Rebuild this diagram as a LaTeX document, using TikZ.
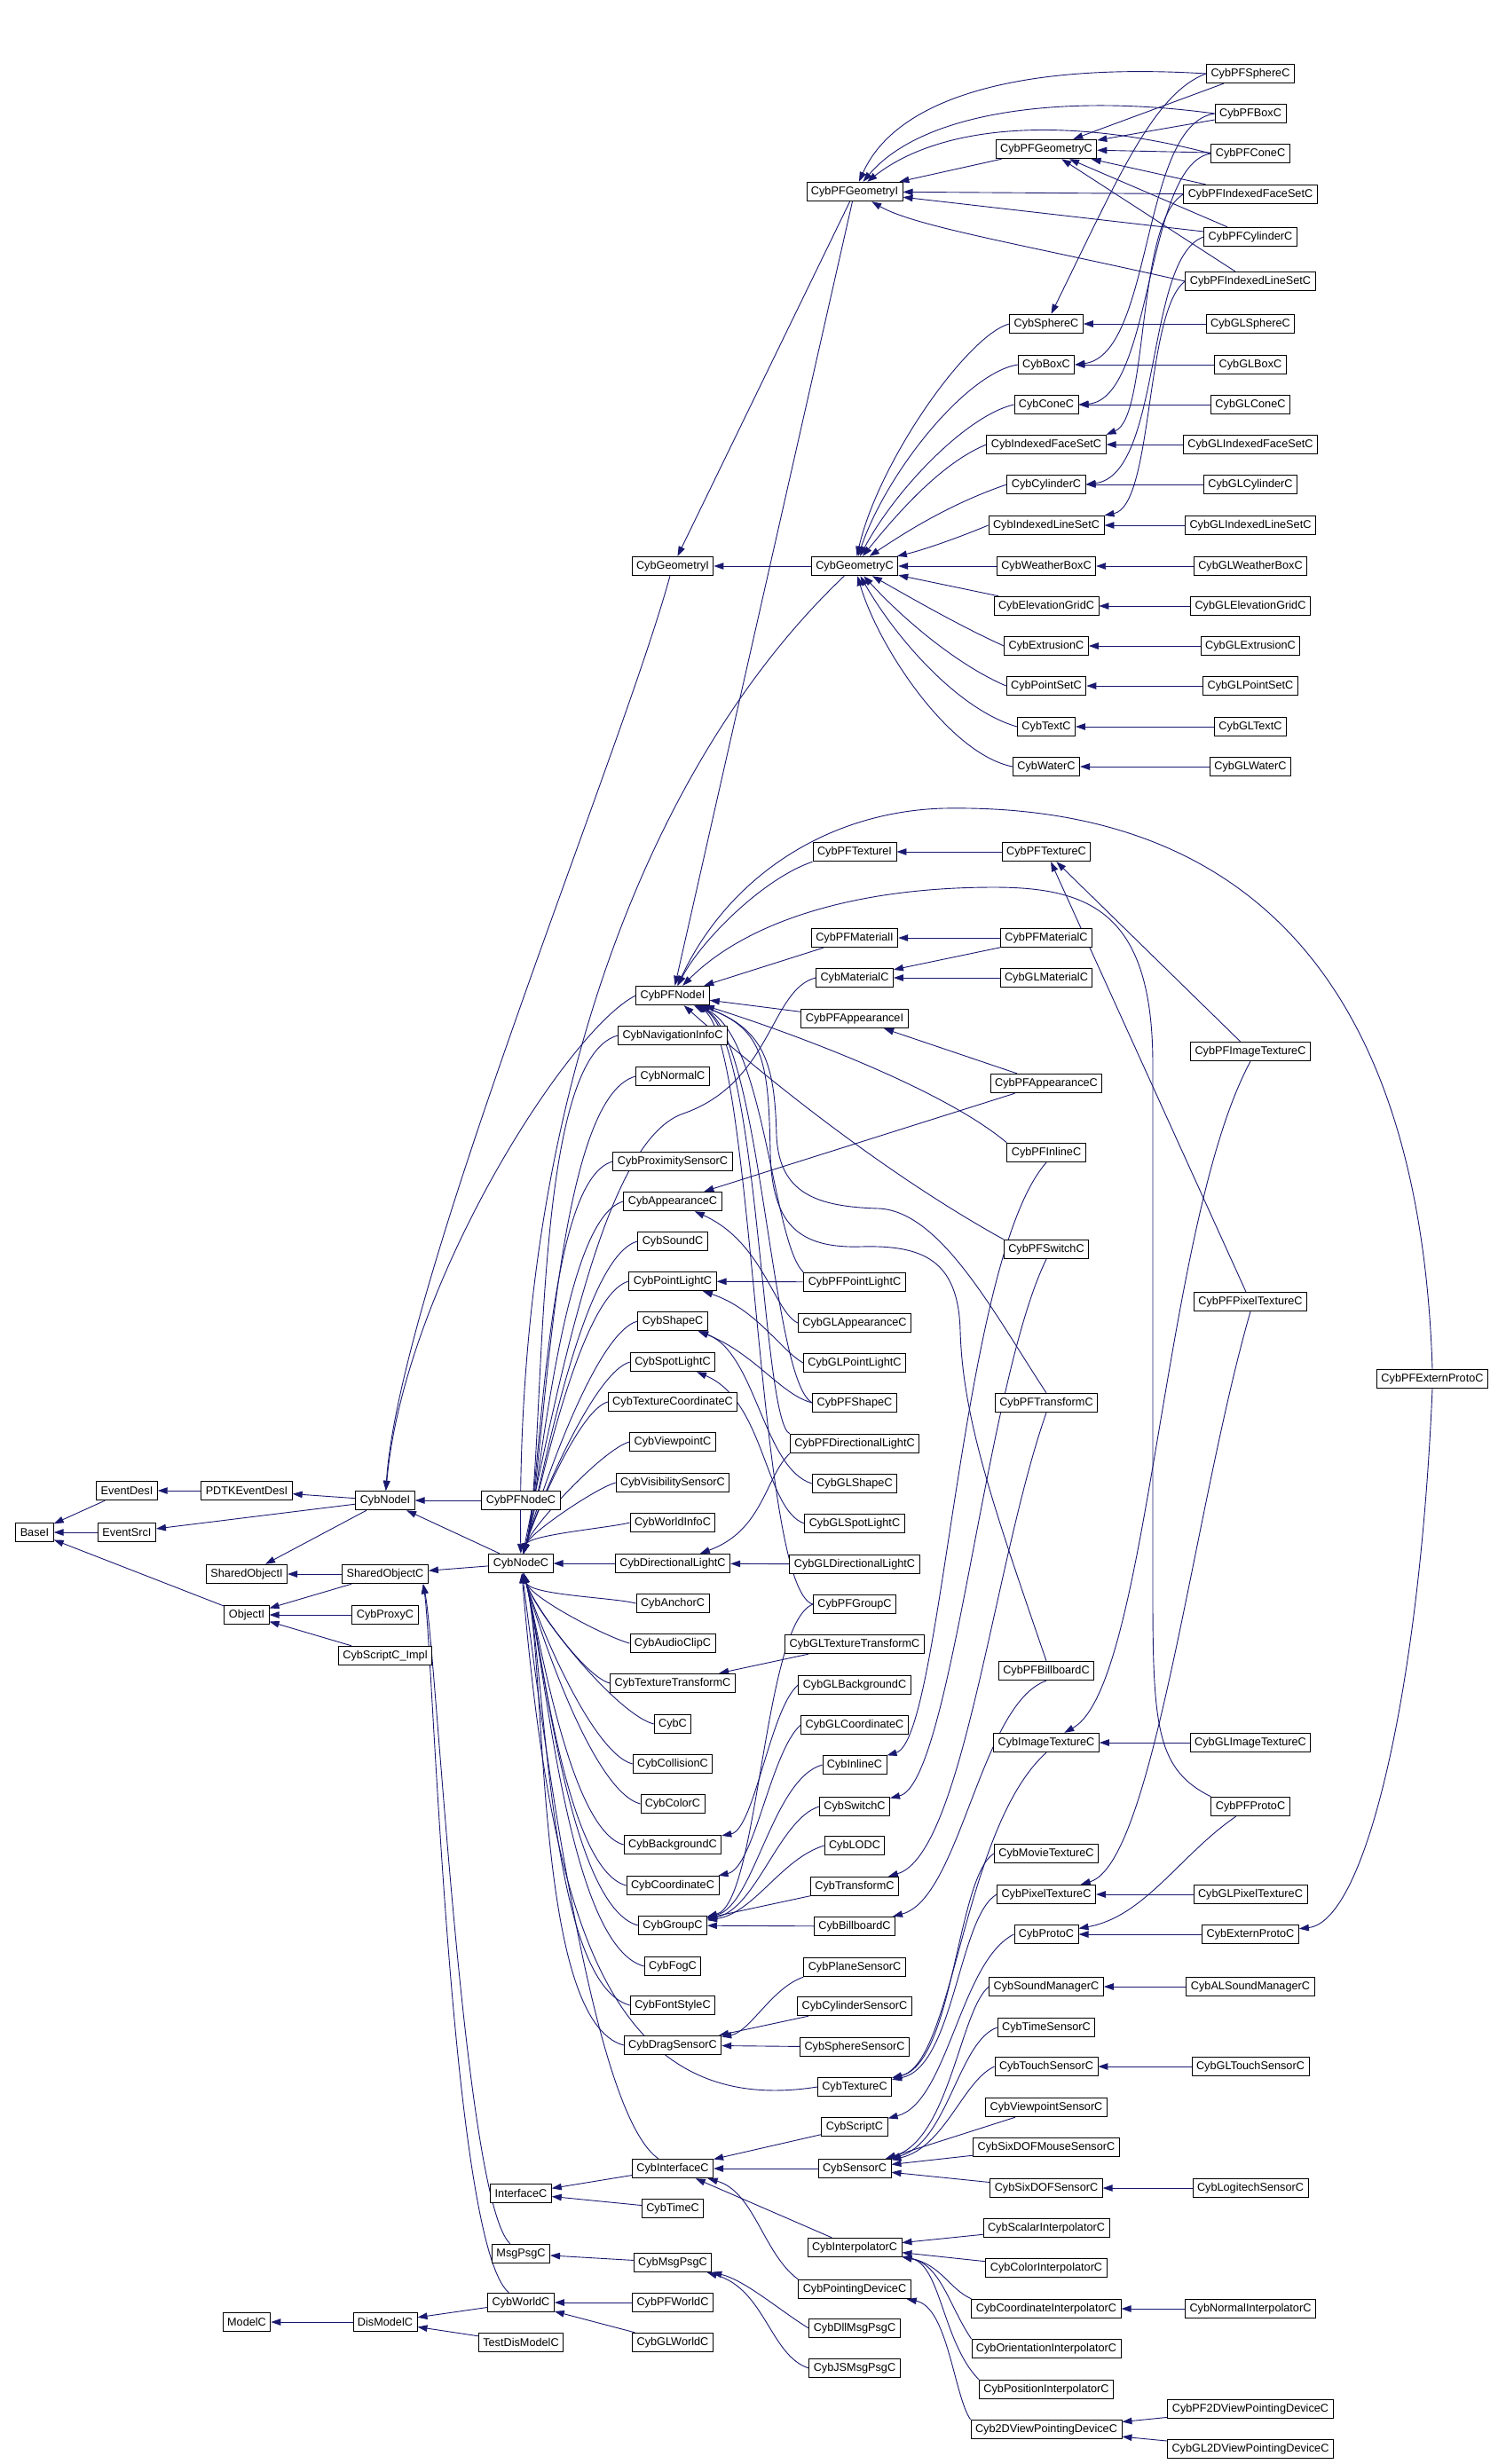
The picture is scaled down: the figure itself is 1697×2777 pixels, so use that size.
\documentclass[tikz,border=0pt]{standalone}
\usepackage{fontspec}
\setmainfont{Liberation Sans}
\usetikzlibrary{arrows.meta}
\definecolor{edgeblue}{RGB}{25,25,112}
\pgfdeclarelayer{edges}
\pgfsetlayers{edges,main}

\begin{document}
\begin{tikzpicture}[x=1pt,y=1pt,
  cls/.style={draw=black,line width=0.9pt,fill=white,minimum height=21.5pt,inner xsep=5pt,inner ysep=0pt,font=\fontsize{12.7}{15}\selectfont},
  inh/.style={draw=edgeblue,line width=0.9pt,-{Triangle[length=11pt,width=7.5pt]}}]
\useasboundingbox (0,0) rectangle (1697,-2777);

\node[cls] (basei) at (39,-1727) {BaseI};
\node[cls] (evdesi) at (143,-1680) {EventDesI};
\node[cls] (evsrci) at (143,-1727) {EventSrcI};
\node[cls] (pdtk) at (278,-1680) {PDTKEventDesI};
\node[cls] (shobji) at (278,-1774) {SharedObjectI};
\node[cls] (obji) at (278,-1820) {ObjectI};
\node[cls] (modelc) at (278,-2617) {ModelC};
\node[cls] (nodei) at (434,-1691) {CybNodeI};
\node[cls] (shobjc) at (434,-1774) {SharedObjectC};
\node[cls] (proxy) at (434,-1820) {CybProxyC};
\node[cls] (scrimpl) at (434,-1866) {CybScriptC\_Impl};
\node[cls] (dismodel) at (434,-2617) {DisModelC};
\node[cls] (pfnodec) at (587,-1691) {CybPFNodeC};
\node[cls] (nodec) at (587,-1762) {CybNodeC};
\node[cls] (ifacec) at (587,-2472) {InterfaceC};
\node[cls] (msgpsg) at (587,-2540) {MsgPsgC};
\node[cls] (world) at (587,-2595) {CybWorldC};
\node[cls] (testdis) at (587,-2640) {TestDisModelC};

\node[cls] (geomi) at (758,-638) {CybGeometryI};
\node[cls] (pfnodei) at (758,-1122) {CybPFNodeI};
\node[cls] (navinfo) at (758,-1167) {CybNavigationInfoC};
\node[cls] (normal) at (758,-1213) {CybNormalC};
\node[cls] (proxsens) at (758,-1309) {CybProximitySensorC};
\node[cls] (appc) at (758,-1354) {CybAppearanceC};
\node[cls] (sound) at (758,-1399) {CybSoundC};
\node[cls] (ptlight) at (758,-1444) {CybPointLightC};
\node[cls] (shape) at (758,-1489) {CybShapeC};
\node[cls] (spot) at (758,-1535) {CybSpotLightC};
\node[cls] (texcoord) at (758,-1580) {CybTextureCoordinateC};
\node[cls] (vpoint) at (758,-1625) {CybViewpointC};
\node[cls] (visib) at (758,-1671) {CybVisibilitySensorC};
\node[cls] (winfo) at (758,-1716) {CybWorldInfoC};
\node[cls] (dirlight) at (758,-1762) {CybDirectionalLightC};
\node[cls] (anchor) at (758,-1807) {CybAnchorC};
\node[cls] (audio) at (758,-1852) {CybAudioClipC};
\node[cls] (textrans) at (758,-1897) {CybTextureTransformC};
\node[cls] (cybc) at (758,-1943) {CybC};
\node[cls] (collis) at (758,-1988) {CybCollisionC};
\node[cls] (color) at (758,-2033) {CybColorC};
\node[cls] (backgr) at (758,-2079) {CybBackgroundC};
\node[cls] (coord) at (758,-2125) {CybCoordinateC};
\node[cls] (group) at (758,-2170) {CybGroupC};
\node[cls] (fog) at (758,-2216) {CybFogC};
\node[cls] (font) at (758,-2260) {CybFontStyleC};
\node[cls] (drag) at (758,-2305) {CybDragSensorC};
\node[cls] (iface) at (758,-2444) {CybInterfaceC};
\node[cls] (time) at (758,-2489) {CybTimeC};
\node[cls] (msgpsgc) at (758,-2550) {CybMsgPsgC};
\node[cls] (pfworld) at (758,-2595) {CybPFWorldC};
\node[cls] (glworld) at (758,-2640) {CybGLWorldC};

\node[cls] (pfgeomi) at (963,-216) {CybPFGeometryI};
\node[cls] (geomc) at (963,-638) {CybGeometryC};
\node[cls] (pftexi) at (963,-960) {CybPFTextureI};
\node[cls] (pfmati) at (963,-1057) {CybPFMaterialI};
\node[cls] (matc) at (963,-1102) {CybMaterialC};
\node[cls] (pfappi) at (963,-1148) {CybPFAppearanceI};
\node[cls] (pfptlight) at (963,-1445) {CybPFPointLightC};
\node[cls] (glapp) at (963,-1491) {CybGLAppearanceC};
\node[cls] (glptlight) at (963,-1536) {CybGLPointLightC};
\node[cls] (pfshape) at (963,-1581) {CybPFShapeC};
\node[cls] (pfdir) at (963,-1627) {CybPFDirectionalLightC};
\node[cls] (glshape) at (963,-1672) {CybGLShapeC};
\node[cls] (glspot) at (963,-1717) {CybGLSpotLightC};
\node[cls] (gldir) at (963,-1763) {CybGLDirectionalLightC};
\node[cls] (pfgroup) at (963,-1808) {CybPFGroupC};
\node[cls] (gltextr) at (963,-1853) {CybGLTextureTransformC};
\node[cls] (glbackgr) at (963,-1899) {CybGLBackgroundC};
\node[cls] (glcoord) at (963,-1944) {CybGLCoordinateC};
\node[cls] (inline) at (963,-1989) {CybInlineC};
\node[cls] (switch) at (963,-2036) {CybSwitchC};
\node[cls] (lod) at (963,-2080) {CybLODC};
\node[cls] (transf) at (963,-2126) {CybTransformC};
\node[cls] (billb) at (963,-2171) {CybBillboardC};
\node[cls] (plane) at (963,-2217) {CybPlaneSensorC};
\node[cls] (cylsens) at (963,-2261) {CybCylinderSensorC};
\node[cls] (sphsens) at (963,-2307) {CybSphereSensorC};
\node[cls] (texture) at (963,-2352) {CybTextureC};
\node[cls] (script) at (963,-2397) {CybScriptC};
\node[cls] (sensor) at (963,-2444) {CybSensorC};
\node[cls] (interp) at (963,-2533) {CybInterpolatorC};
\node[cls] (pointdev) at (963,-2580) {CybPointingDeviceC};
\node[cls] (dllmsg) at (963,-2624) {CybDllMsgPsgC};
\node[cls] (jsmsg) at (963,-2669) {CybJSMsgPsgC};

\node[cls] (pfgeomc) at (1179,-168) {CybPFGeometryC};
\node[cls] (sphere) at (1179,-365) {CybSphereC};
\node[cls] (box) at (1179,-411) {CybBoxC};
\node[cls] (cone) at (1179,-456) {CybConeC};
\node[cls] (ifs) at (1179,-501) {CybIndexedFaceSetC};
\node[cls] (cyl) at (1179,-546) {CybCylinderC};
\node[cls] (ils) at (1179,-592) {CybIndexedLineSetC};
\node[cls] (wbox) at (1179,-638) {CybWeatherBoxC};
\node[cls] (elev) at (1179,-683) {CybElevationGridC};
\node[cls] (extr) at (1179,-728) {CybExtrusionC};
\node[cls] (pset) at (1179,-773) {CybPointSetC};
\node[cls] (txt) at (1179,-819) {CybTextC};
\node[cls] (water) at (1179,-864) {CybWaterC};
\node[cls] (pftexc) at (1179,-960) {CybPFTextureC};
\node[cls] (pfmatc) at (1179,-1057) {CybPFMaterialC};
\node[cls] (glmatc) at (1179,-1102) {CybGLMaterialC};
\node[cls] (pfappc) at (1179,-1221) {CybPFAppearanceC};
\node[cls] (pfinline) at (1179,-1299) {CybPFInlineC};
\node[cls] (pfswitch) at (1179,-1408) {CybPFSwitchC};
\node[cls] (pftransf) at (1179,-1581) {CybPFTransformC};
\node[cls] (pfbillb) at (1179,-1883) {CybPFBillboardC};
\node[cls] (imgtex) at (1179,-1964) {CybImageTextureC};
\node[cls] (movtex) at (1179,-2089) {CybMovieTextureC};
\node[cls] (pixtex) at (1179,-2135) {CybPixelTextureC};
\node[cls] (proto) at (1179,-2180) {CybProtoC};
\node[cls] (sndmgr) at (1179,-2239) {CybSoundManagerC};
\node[cls] (timesens) at (1179,-2285) {CybTimeSensorC};
\node[cls] (touch) at (1179,-2329) {CybTouchSensorC};
\node[cls] (vpsens) at (1179,-2375) {CybViewpointSensorC};
\node[cls] (sixmouse) at (1179,-2420) {CybSixDOFMouseSensorC};
\node[cls] (sixdof) at (1179,-2466) {CybSixDOFSensorC};
\node[cls] (scalar) at (1179,-2511) {CybScalarInterpolatorC};
\node[cls] (colint) at (1179,-2556) {CybColorInterpolatorC};
\node[cls] (coordint) at (1179,-2602) {CybCoordinateInterpolatorC};
\node[cls] (orient) at (1179,-2647) {CybOrientationInterpolatorC};
\node[cls] (posint) at (1179,-2693) {CybPositionInterpolatorC};
\node[cls] (view2d) at (1179,-2738) {Cyb2DViewPointingDeviceC};

\node[cls] (pfsph) at (1409,-83) {CybPFSphereC};
\node[cls] (pfbox) at (1409,-128) {CybPFBoxC};
\node[cls] (pfcone) at (1409,-173) {CybPFConeC};
\node[cls] (pfifs) at (1409,-219) {CybPFIndexedFaceSetC};
\node[cls] (pfcyl) at (1409,-267) {CybPFCylinderC};
\node[cls] (pfils) at (1409,-317) {CybPFIndexedLineSetC};
\node[cls] (glsph) at (1409,-365) {CybGLSphereC};
\node[cls] (glbox) at (1409,-411) {CybGLBoxC};
\node[cls] (glcone) at (1409,-456) {CybGLConeC};
\node[cls] (glifs) at (1409,-501) {CybGLIndexedFaceSetC};
\node[cls] (glcyl) at (1409,-546) {CybGLCylinderC};
\node[cls] (glils) at (1409,-592) {CybGLIndexedLineSetC};
\node[cls] (glwbox) at (1409,-638) {CybGLWeatherBoxC};
\node[cls] (glelev) at (1409,-683) {CybGLElevationGridC};
\node[cls] (glextr) at (1409,-728) {CybGLExtrusionC};
\node[cls] (glpset) at (1409,-773) {CybGLPointSetC};
\node[cls] (gltxt) at (1409,-819) {CybGLTextC};
\node[cls] (glwater) at (1409,-864) {CybGLWaterC};
\node[cls] (pfimgtex) at (1409,-1185) {CybPFImageTextureC};
\node[cls] (pfpixtex) at (1409,-1467) {CybPFPixelTextureC};
\node[cls] (glimgtex) at (1409,-1964) {CybGLImageTextureC};
\node[cls] (pfproto) at (1409,-2036) {CybPFProtoC};
\node[cls] (glpixtex) at (1409,-2135) {CybGLPixelTextureC};
\node[cls] (extproto) at (1409,-2180) {CybExternProtoC};
\node[cls] (alsnd) at (1409,-2239) {CybALSoundManagerC};
\node[cls] (gltouch) at (1409,-2329) {CybGLTouchSensorC};
\node[cls] (logi) at (1409,-2466) {CybLogitechSensorC};
\node[cls] (normint) at (1409,-2602) {CybNormalInterpolatorC};
\node[cls] (pf2d) at (1409,-2715) {CybPF2DViewPointingDeviceC};
\node[cls] (gl2d) at (1409,-2760) {CybGL2DViewPointingDeviceC};
\node[cls] (pfextp) at (1614,-1554) {CybPFExternProtoC};

\begin{pgfonlayer}{edges}
\draw[inh] (evdesi) -- (basei);
\draw[inh] (evsrci) -- (basei);
\draw[inh] (obji) -- (basei);
\draw[inh] (pdtk) -- (evdesi);
\draw[inh] (nodei) -- (pdtk);
\draw[inh] (nodei) -- (evsrci);
\draw[inh] (nodei) -- (shobji);
\draw[inh] (shobjc) -- (shobji);
\draw[inh] (shobjc) -- (obji);
\draw[inh] (proxy) -- (obji);
\draw[inh] (scrimpl) -- (obji);
\draw[inh] (pfnodec) -- (nodei);
\draw[inh] (nodec) -- (nodei);
\draw[inh] (nodec) -- (shobjc);
\draw[inh] (msgpsg) .. controls (522,-2480) and (492,-1860) .. ([xshift=-6pt]shobjc.south east);
\draw[inh] (world) .. controls (508,-2530) and (488,-1860) .. ([xshift=-6pt]shobjc.south east);
\draw[inh] (geomi) .. controls (700,-850) and (450,-1450) .. (nodei);
\draw[inh] (pfnodei.west) .. controls (640,-1160) and (455,-1450) .. (nodei);

\draw[inh] (iface) -- (ifacec);
\draw[inh] (time) -- (ifacec);
\draw[inh] (msgpsgc) -- (msgpsg);
\draw[inh] (pfworld) -- (world);
\draw[inh] (glworld) -- (world);
\draw[inh] (world) -- (dismodel);
\draw[inh] (testdis) -- (dismodel);
\draw[inh] (dismodel) -- (modelc);
\draw[inh] (dllmsg.west) .. controls (880,-2605) and (840,-2570) .. (msgpsgc);
\draw[inh] (jsmsg.west) .. controls (868,-2655) and (862,-2580) .. (msgpsgc);
\draw[inh] (script) -- (iface);
\draw[inh] (sensor) -- (iface);
\draw[inh] (interp) -- (iface);
\draw[inh] (pointdev.north west) .. controls (860,-2540) and (850,-2470) .. (iface);
\draw[inh] (iface) .. controls (680,-2390) and (630,-2100) .. (nodec);
\draw[inh] (texture.west) .. controls (680,-2390) and (620,-2150) .. (nodec);

\draw[inh] (sndmgr.west) .. controls (1082,-2265) and (1070,-2410) .. (sensor);
\draw[inh] (timesens.west) .. controls (1080,-2300) and (1068,-2415) .. (sensor);
\draw[inh] (touch.west) .. controls (1085,-2345) and (1065,-2420) .. (sensor);
\draw[inh] (vpsens) -- (sensor);
\draw[inh] (sixmouse) -- (sensor);
\draw[inh] (sixdof) -- (sensor);
\draw[inh] (proto.west) .. controls (1082,-2210) and (1068,-2370) .. (script);
\draw[inh] (gltouch) -- (touch);
\draw[inh] (logi) -- (sixdof);
\draw[inh] (alsnd) -- (sndmgr);
\draw[inh] (extproto) -- (proto);
\draw[inh] (glpixtex) -- (pixtex);
\draw[inh] (glimgtex) -- (imgtex);

\draw[inh] (scalar) -- (interp);
\draw[inh] (colint) -- (interp);
\draw[inh] (coordint.north west) .. controls (1070,-2580) and (1060,-2552) .. (interp);
\draw[inh] (orient.north west) .. controls (1070,-2600) and (1060,-2552) .. (interp);
\draw[inh] (posint.north west) .. controls (1062,-2640) and (1060,-2552) .. (interp);
\draw[inh] (normint) -- (coordint);
\draw[inh] (view2d.north west) .. controls (1075,-2700) and (1068,-2600) .. (pointdev);
\draw[inh] (pf2d) -- (view2d);
\draw[inh] (gl2d) -- (view2d);

\draw[inh] (imgtex.south) .. controls (1085,-2060) and (1075,-2325) .. (texture);
\draw[inh] (movtex.west) .. controls (1078,-2115) and (1075,-2325) .. (texture);
\draw[inh] (pixtex.west) .. controls (1080,-2160) and (1075,-2330) .. (texture);

\draw[inh] (inline.west) .. controls (870,-2005) and (850,-2148) .. (group);
\draw[inh] (switch.west) .. controls (878,-2050) and (852,-2152) .. (group);
\draw[inh] (lod.west) .. controls (880,-2095) and (850,-2156) .. (group);
\draw[inh] (transf) -- (group);
\draw[inh] (billb) -- (group);
\draw[inh] (pfgroup.west) .. controls (860,-1830) and (855,-2145) .. (group);
\draw[inh] (plane.south west) .. controls (870,-2240) and (845,-2290) .. (drag);
\draw[inh] (cylsens) -- (drag);
\draw[inh] (sphsens) -- (drag);

\draw[inh] (gldir) -- (dirlight);
\draw[inh] (pfptlight) -- (ptlight);
\draw[inh] (gltextr) -- (textrans);
\draw[inh] (glmatc) -- (matc);
\draw[inh] (pfmatc) -- (pfmati);
\draw[inh] (pfmatc) -- (matc);
\draw[inh] (pftexc) -- (pftexi);
\draw[inh] (pfappc) -- (pfappi);
\draw[inh] (pfappc) -- (appc);
\draw[inh] (glapp.west) .. controls (872,-1478) and (860,-1400) .. (appc);
\draw[inh] (glptlight.west) .. controls (880,-1522) and (852,-1475) .. (ptlight);
\draw[inh] (pfshape.west) .. controls (880,-1572) and (850,-1525) .. (shape);
\draw[inh] (glshape.west) .. controls (860,-1655) and (852,-1525) .. (shape);
\draw[inh] (glspot.west) .. controls (862,-1702) and (862,-1578) .. (spot);
\draw[inh] (pfdir.south west) .. controls (862,-1665) and (860,-1725) .. (dirlight);
\draw[inh] (glbackgr.west) .. controls (868,-1925) and (850,-2062) .. (backgr);
\draw[inh] (glcoord.west) .. controls (868,-1975) and (850,-2105) .. (coord);

\draw[inh] (pfgeomi) -- (pfnodei);
\draw[inh] (pftexi.south west) .. controls (860,-990) and (790,-1060) .. (pfnodei);
\draw[inh] (pfmati) -- (pfnodei);
\draw[inh] (pfappi) -- (pfnodei);
\draw[inh] (pfextp.north) .. controls (1600,-1100) and (1400,-905) .. (1063,-911) .. controls (930,-915) and (820,-990) .. (pfnodei);
\draw[inh] (pfproto.north west) .. controls (1305,-1995) and (1299,-1950) .. (1299,-1800) -- (1299,-1200) .. controls (1299,-1030) and (1230,-1000) .. (1120,-1000) .. controls (960,-1000) and (840,-1040) .. (pfnodei);
\draw[inh] (pfinline.north west) .. controls (1060,-1225) and (880,-1160) .. (pfnodei);
\draw[inh] (pfswitch.north west) .. controls (1010,-1330) and (880,-1230) .. (pfnodei);
\draw[inh] (pfptlight.north west) .. controls (870,-1400) and (862,-1165) .. (pfnodei);
\draw[inh] (pfshape.west) .. controls (868,-1555) and (858,-1165) .. (pfnodei);
\draw[inh] (pfdir.north west) .. controls (858,-1600) and (855,-1165) .. (pfnodei);
\draw[inh] (pfgroup.west) .. controls (852,-1790) and (850,-1165) .. (pfnodei);
\draw[inh] (pftransf.north) .. controls (1120,-1480) and (1060,-1365) .. (990,-1362) .. controls (920,-1360) and (878,-1345) .. (875,-1280) .. controls (873,-1200) and (862,-1160) .. (pfnodei);
\draw[inh] (pfbillb.north) .. controls (1120,-1700) and (1085,-1600) .. (1082,-1500) .. controls (1080,-1420) and (1040,-1403) .. (970,-1405) .. controls (900,-1407) and (870,-1380) .. (868,-1300) .. controls (866,-1200) and (862,-1160) .. (pfnodei);

\draw[inh] (pfinline.south) .. controls (1082,-1420) and (1062,-1960) .. (inline);
\draw[inh] (pfswitch.south) .. controls (1110,-1560) and (1072,-2010) .. (switch);
\draw[inh] (pftransf.south) .. controls (1120,-1760) and (1085,-2090) .. (transf);
\draw[inh] (pfbillb.south) .. controls (1105,-1920) and (1082,-2140) .. (billb);
\draw[inh] (pfimgtex.south) .. controls (1310,-1380) and (1295,-1900) .. (imgtex);
\draw[inh] (pfpixtex.south) .. controls (1345,-1700) and (1300,-2100) .. (pixtex);
\draw[inh] (pfimgtex) -- (pftexc);
\draw[inh] (pfpixtex) -- (pftexc);
\draw[inh] (pfproto) .. controls (1330,-2090) and (1290,-2160) .. (proto);
\draw[inh] (pfextp.south) .. controls (1600,-1900) and (1540,-2165) .. (extproto);

\draw[inh] (pfgeomc) -- (pfgeomi);
\draw[inh] (pfsph.west) .. controls (1150,-70) and (1010,-110) .. (pfgeomi);
\draw[inh] (pfbox.west) .. controls (1200,-105) and (1040,-125) .. (pfgeomi);
\draw[inh] (pfcone.west) .. controls (1200,-130) and (1060,-140) .. (pfgeomi);
\draw[inh] (pfifs) -- (pfgeomi);
\draw[inh] (pfcyl) -- (pfgeomi);
\draw[inh] (pfils.west) .. controls (1150,-275) and (1030,-255) .. (pfgeomi);
\draw[inh] (pfsph) -- (pfgeomc);
\draw[inh] (pfbox) -- (pfgeomc);
\draw[inh] (pfcone) -- (pfgeomc);
\draw[inh] (pfifs) -- (pfgeomc);
\draw[inh] (pfcyl) -- (pfgeomc);
\draw[inh] (pfils) -- (pfgeomc);
\draw[inh] (pfsph.west) .. controls (1300,-105) and (1260,-200) .. (sphere);
\draw[inh] (pfbox.west) .. controls (1285,-140) and (1300,-400) .. (box.east);
\draw[inh] (pfcone.west) .. controls (1290,-185) and (1300,-450) .. (cone.east);
\draw[inh] (pfifs.west) .. controls (1280,-250) and (1295,-470) .. (ifs.north east);
\draw[inh] (pfcyl.west) .. controls (1290,-290) and (1310,-535) .. (cyl.east);
\draw[inh] (pfils.west) .. controls (1290,-350) and (1300,-570) .. (ils.north east);
\draw[inh] (glsph) -- (sphere);
\draw[inh] (glbox) -- (box);
\draw[inh] (glcone) -- (cone);
\draw[inh] (glifs) -- (ifs);
\draw[inh] (glcyl) -- (cyl);
\draw[inh] (glils) -- (ils);
\draw[inh] (glwbox) -- (wbox);
\draw[inh] (glelev) -- (elev);
\draw[inh] (glextr) -- (extr);
\draw[inh] (glpset) -- (pset);
\draw[inh] (gltxt) -- (txt);
\draw[inh] (glwater) -- (water);
\draw[inh] (sphere.west) .. controls (1090,-378) and (990,-520) .. (geomc);
\draw[inh] (box.west) .. controls (1090,-420) and (1000,-530) .. (geomc);
\draw[inh] (cone.west) .. controls (1090,-468) and (1010,-550) .. (geomc);
\draw[inh] (ifs.west) .. controls (1060,-522) and (1010,-580) .. (geomc);
\draw[inh] (cyl.west) .. controls (1070,-568) and (1020,-600) .. (geomc);
\draw[inh] (ils.west) .. controls (1080,-606) and (1040,-620) .. (geomc);
\draw[inh] (wbox) -- (geomc);
\draw[inh] (elev) -- (geomc);
\draw[inh] (extr.west) .. controls (1080,-705) and (1020,-670) .. (geomc);
\draw[inh] (pset.west) .. controls (1080,-750) and (1020,-700) .. (geomc);
\draw[inh] (txt.west) .. controls (1080,-800) and (1010,-720) .. (geomc);
\draw[inh] (water.west) .. controls (1070,-850) and (990,-730) .. (geomc);
\draw[inh] (geomc) -- (geomi);
\draw[inh] (pfgeomi) -- (geomi);
\draw[inh] (geomc) .. controls (740,-850) and (580,-1230) .. (nodec);
\draw[inh] (matc.west) .. controls (868,-1115) and (870,-1220) .. (770,-1255) .. controls (690,-1282) and (640,-1500) .. (nodec);

\draw[inh] (navinfo.west) to[out=195,in=75,looseness=0.45] (nodec);
\draw[inh] (normal.west) to[out=195,in=75,looseness=0.45] (nodec);
\draw[inh] (proxsens.west) to[out=195,in=75,looseness=0.45] (nodec);
\draw[inh] (appc.west) to[out=195,in=75,looseness=0.45] (nodec);
\draw[inh] (sound.west) to[out=195,in=75,looseness=0.45] (nodec);
\draw[inh] (ptlight.west) to[out=195,in=75,looseness=0.45] (nodec);
\draw[inh] (shape.west) to[out=195,in=75,looseness=0.45] (nodec);
\draw[inh] (spot.west) to[out=195,in=75,looseness=0.45] (nodec);
\draw[inh] (texcoord.west) to[out=195,in=75,looseness=0.45] (nodec);
\draw[inh] (vpoint.west) to[out=195,in=75,looseness=0.45] (nodec);
\draw[inh] (visib.west) to[out=195,in=75,looseness=0.45] (nodec);
\draw[inh] (winfo.west) to[out=195,in=75,looseness=0.45] (nodec);
\draw[inh] (dirlight) -- (nodec);
\draw[inh] (anchor.west) to[out=165,in=-75,looseness=0.5] (nodec);
\draw[inh] (audio.west) to[out=165,in=-75,looseness=0.5] (nodec);
\draw[inh] (textrans.west) to[out=165,in=-75,looseness=0.5] (nodec);
\draw[inh] (cybc.west) to[out=165,in=-75,looseness=0.5] (nodec);
\draw[inh] (collis.west) to[out=165,in=-75,looseness=0.5] (nodec);
\draw[inh] (color.west) to[out=165,in=-75,looseness=0.5] (nodec);
\draw[inh] (backgr.west) to[out=165,in=-75,looseness=0.5] (nodec);
\draw[inh] (coord.west) to[out=165,in=-75,looseness=0.5] (nodec);
\draw[inh] (group.west) to[out=165,in=-75,looseness=0.5] (nodec);
\draw[inh] (fog.west) to[out=165,in=-75,looseness=0.5] (nodec);
\draw[inh] (font.west) to[out=165,in=-75,looseness=0.5] (nodec);
\draw[inh] (drag.west) to[out=165,in=-75,looseness=0.5] (nodec);
\end{pgfonlayer}
\end{tikzpicture}
\end{document}
